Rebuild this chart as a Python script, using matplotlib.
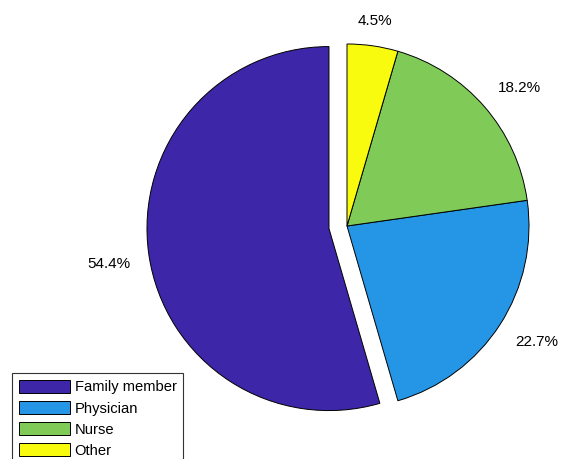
import numpy as np
import matplotlib.pyplot as plt

plt.rcParams['font.family'] = ['Liberation Sans', 'DejaVu Sans']

# who answered the question
labels = ['Family member', 'Physician', 'Nurse', 'Other']
shares = [54.4, 22.7, 18.2, 4.5]
explode = [0.1, 0, 0, 0]
colors = ['#3E26A8', '#2596E6', '#80CB58', '#F9FB0E']

fig = plt.figure(figsize=(5.66, 4.59), dpi=100)
ax = fig.add_axes([0, 0, 1, 1])

wedges, texts = ax.pie(shares, explode=explode, colors=colors, startangle=90,
                       counterclock=True, labels=[f'{v}%' for v in shares],
                       labeldistance=1.1,
                       wedgeprops=dict(edgecolor='black', linewidth=0.7),
                       textprops=dict(fontsize=11))

# align each percentage away from the pie, like the labels sit on the rim
for w, t in zip(wedges, texts):
    mid = np.deg2rad((w.theta1 + w.theta2) / 2)
    if abs(np.cos(mid)) < 0.2:
        t.set_ha('center')
    else:
        t.set_ha('left' if np.cos(mid) > 0 else 'right')
    t.set_va('bottom' if np.sin(mid) > 0 else 'top')

# put the pie center where we want it on the page, 182 px per unit
ax.set_aspect('auto')
ax.set_xlim(-347 / 182, (566 - 347) / 182)
ax.set_ylim(-(459 - 226) / 182, 226 / 182)
ax.axis('off')

leg = fig.legend(wedges, labels, loc='upper left',
                 bbox_to_anchor=(12 / 566, 1 - 373 / 459), borderaxespad=0,
                 fontsize=10.6, handlelength=3.5, handleheight=1.05,
                 handletextpad=0.3, labelspacing=0.42, borderpad=0.45,
                 fancybox=False, framealpha=1)
leg.get_frame().set_edgecolor('#333333')
leg.get_frame().set_linewidth(0.8)

plt.savefig('out.png')
plt.close()
